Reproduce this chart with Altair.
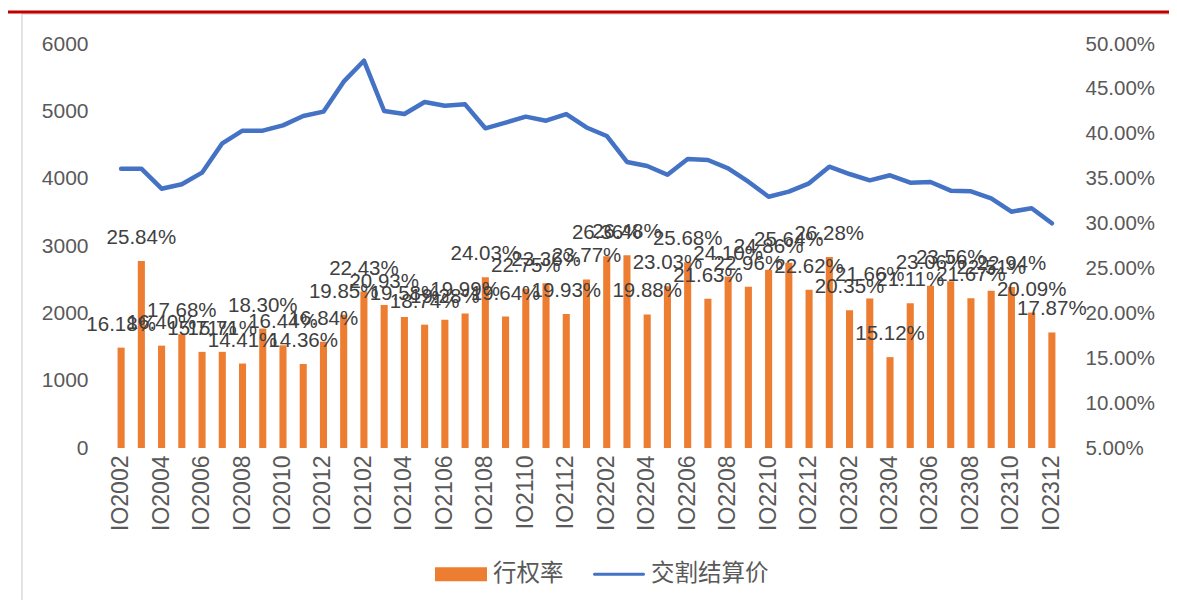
import altair as alt
import pandas as pd

# ---- data ----
categories = [f"IO{y:02d}{m:02d}" for y in (20, 21, 22, 23) for m in range(1, 13)][1:]
exercise_rate = [16.18, 25.84, 16.40, 17.68, 15.71, 15.71, 14.41, 18.30, 16.44, 14.36,
                 16.84, 19.85, 22.43, 20.93, 19.58, 18.74, 19.28, 19.99, 24.03, 19.64,
                 22.75, 23.36, 19.93, 23.77, 26.36, 26.48, 19.88, 23.03, 25.68, 21.63,
                 24.10, 22.96, 24.86, 25.64, 22.62, 26.28, 20.35, 21.66, 15.12, 21.11,
                 23.06, 23.56, 21.67, 22.51, 22.94, 20.09, 17.87]
settle_price = [4148, 4148, 3851, 3916, 4089, 4525, 4713, 4713, 4792, 4931,
                4995, 5441, 5752, 5005, 4960, 5139, 5084, 5104, 4748, 4832,
                4921, 4861, 4960, 4760, 4634, 4248, 4188, 4059, 4292, 4277,
                4154, 3955, 3732, 3807, 3931, 4178, 4069, 3975, 4050, 3940,
                3950, 3822, 3812, 3708, 3510, 3560, 3337]
tick_labels = categories[::2]
left_ticks = [0, 1000, 2000, 3000, 4000, 5000, 6000]
right_ticks = [5, 10, 15, 20, 25, 30, 35, 40, 45, 50]
series_names = ["行权率", "交割结算价"]

ORANGE = "#ED7D31"
BLUE = "#4472C4"
GRAY_TXT = "#595959"
GRID = "#d9d9d9"

df = pd.DataFrame({
    "cat": categories,
    "rate": exercise_rate,
    "price": settle_price,
    "series": series_names[0],
})
df["label"] = [f"{v:.2f}%" for v in exercise_rate]

x_enc = alt.X(
    "cat:N", sort=categories, title=None,
    scale=alt.Scale(paddingInner=0.65, paddingOuter=0.325),
    axis=alt.Axis(values=tick_labels, labelAngle=-90, labelFontSize=23,
                  labelColor=GRAY_TXT, domain=False, ticks=False,
                  labelPadding=7, grid=False),
)

y_rate = alt.Y(
    "rate:Q", title=None,
    scale=alt.Scale(domain=[5, 50]),
    axis=alt.Axis(orient="right", values=right_ticks,
                  labelExpr="format(datum.value, '.2f') + '%'",
                  labelFontSize=20.5, labelColor=GRAY_TXT, grid=False,
                  domain=False, ticks=False, labelPadding=23),
)

legend = alt.Legend(
    orient="none", legendX=324, legendY=504, direction="horizontal",
    title=None, padding=0, labelFontSize=23.5, labelColor=GRAY_TXT,
    labelFont="Noto Sans CJK SC", labelOffset=6, columnPadding=29,
    symbolSize=2704, symbolStrokeWidth=0, symbolOpacity=1,
    symbolType={"expr": "datum.label == '行权率' ? 'M-1,-0.27H1V0.27H-1Z' : "
                        "'M-0.94,-0.06H0.94A0.06,0.06 0 0 1 0.94,0.06H-0.94A0.06,0.06 0 0 1 -0.94,-0.06Z'"},
)

bars = alt.Chart(df).mark_bar().encode(
    x=x_enc,
    y=y_rate,
    y2=alt.datum(5),
    color=alt.Color("series:N",
                    scale=alt.Scale(domain=series_names, range=[ORANGE, BLUE]),
                    legend=legend),
)

labels = alt.Chart(df).mark_text(
    fontSize=20.5, color="#404040", baseline="alphabetic", dy=-17
).encode(x=alt.X("cat:N", sort=categories), y=alt.Y("rate:Q"), text="label:N")

bar_layer = alt.layer(bars, labels)

line = alt.Chart(df).mark_line(
    color=BLUE, strokeWidth=4.5, strokeCap="round", strokeJoin="round"
).encode(
    x=alt.X("cat:N", sort=categories),
    y=alt.Y("price:Q", title=None, scale=alt.Scale(domain=[0, 6000]),
            axis=alt.Axis(orient="left", values=left_ticks, format="d",
                          labelFontSize=21, labelColor=GRAY_TXT, domain=False,
                          ticks=False, labelPadding=23, gridColor=GRID,
                          gridWidth=1.5)),
)

one = alt.Data(values=[{"k": 1}])
frame = alt.Chart(one).mark_rect(fill=None, stroke=GRID, strokeWidth=1.5).encode(
    x=alt.value(-89), x2=alt.value(1061), y=alt.value(-30), y2=alt.value(640)
)
redline = alt.Chart(one).mark_rule(color="#c00000", strokeWidth=3).encode(
    x=alt.value(-103), x2=alt.value(1066), y=alt.value(-32)
)

chart = alt.layer(frame, redline, bar_layer, line).resolve_scale(
    y="independent"
).properties(
    width=951, height=404,
    autosize=alt.AutoSizeParams(type="none"),
    padding={"left": 103, "top": 36, "right": 107, "bottom": 152},
).configure(font="Liberation Sans").configure_view(stroke=None)

chart.save("out.html", embed_options={"renderer": "svg", "actions": False})
